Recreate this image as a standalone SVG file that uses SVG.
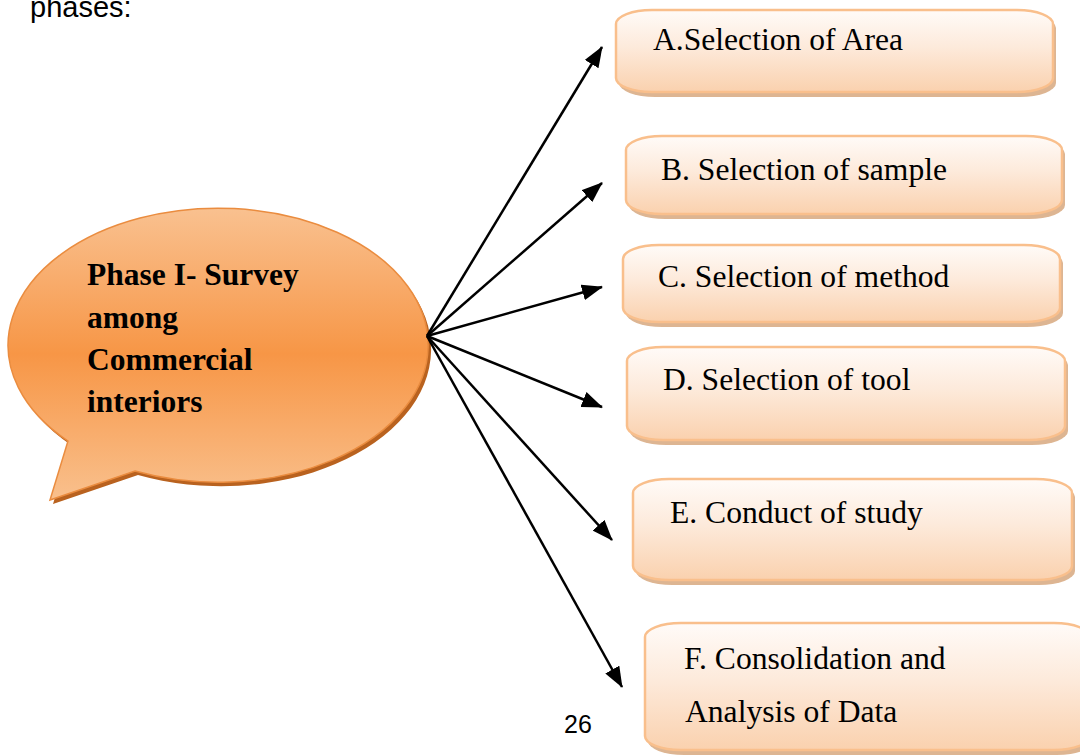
<svg xmlns="http://www.w3.org/2000/svg" width="1080" height="755" viewBox="0 0 1080 755">
<defs>
<linearGradient id="boxGrad" x1="0" y1="0" x2="0" y2="1">
<stop offset="0" stop-color="#fffbf8"/>
<stop offset="0.45" stop-color="#fdeadb"/>
<stop offset="1" stop-color="#fad1ae"/>
</linearGradient>
<linearGradient id="bubGrad" x1="0" y1="0" x2="0" y2="1">
<stop offset="0" stop-color="#f9c190"/>
<stop offset="0.5" stop-color="#f79646"/>
<stop offset="1" stop-color="#f9c08d"/>
</linearGradient>
<marker id="arr" markerUnits="userSpaceOnUse" markerWidth="22" markerHeight="16" refX="20" refY="8" orient="auto">
<path d="M0,0 L21,8 L0,16 z" fill="#000"/>
</marker>
<style>
.box{fill:url(#boxGrad);stroke:#f9bf8c;stroke-width:2.5}
.shadow{fill:#d7a87f;opacity:0.85}
.lbl{font-family:"Liberation Serif","Times New Roman",serif;font-size:31.6px;fill:#000}
.blbl{font-family:"Liberation Serif","Times New Roman",serif;font-size:31.5px;font-weight:bold;fill:#000}
.conn line{stroke:#000;stroke-width:2.5;marker-end:url(#arr)}
</style>
</defs>
<rect width="1080" height="755" fill="#fff"/>
<text x="30" y="17" font-family="Liberation Sans, Arial, sans-serif" font-size="29">phases:</text>
<text x="564" y="733" font-family="Liberation Sans, Arial, sans-serif" font-size="25">26</text>

<g id="bubble">
<path d="M 68,441 L 50,500 L 135,471 A 210 137 0 1 0 68,441 Z" transform="translate(3,4)" fill="#b9621f"/>
<path d="M 68,441 L 50,500 L 135,471 A 210 137 0 1 0 68,441 Z" fill="url(#bubGrad)" stroke="#ea8c3f" stroke-width="1.5"/>
<text class="blbl" x="87" y="285">Phase I- Survey</text>
<text class="blbl" x="87" y="328">among</text>
<text class="blbl" x="87" y="370">Commercial</text>
<text class="blbl" x="87" y="412">interiors</text>
</g>

<g id="nodeA">
<rect class="shadow" x="619" y="14" width="437" height="83" rx="36" ry="14"/>
<rect class="box" x="616" y="10" width="437" height="82" rx="36" ry="14"/>
<text class="lbl" x="653" y="50">A.Selection of Area</text>
</g>
<g id="nodeB">
<rect class="shadow" x="629" y="140" width="436" height="79" rx="36" ry="14"/>
<rect class="box" x="626" y="136" width="436" height="78" rx="36" ry="14"/>
<text class="lbl" x="661" y="180">B. Selection of sample</text>
</g>
<g id="nodeC">
<rect class="shadow" x="626" y="249" width="437" height="78" rx="36" ry="14"/>
<rect class="box" x="623" y="245" width="437" height="77" rx="36" ry="14"/>
<text class="lbl" x="658" y="287">C. Selection of method</text>
</g>
<g id="nodeD">
<rect class="shadow" x="630" y="351" width="438" height="94" rx="36" ry="14"/>
<rect class="box" x="627" y="347" width="438" height="93" rx="36" ry="14"/>
<text class="lbl" x="663" y="390">D. Selection of tool</text>
</g>
<g id="nodeE">
<rect class="shadow" x="636" y="483" width="439" height="102" rx="36" ry="14"/>
<rect class="box" x="633" y="479" width="439" height="101" rx="36" ry="14"/>
<text class="lbl" x="670" y="523">E. Conduct of study</text>
</g>
<g id="nodeF">
<rect class="shadow" x="648" y="627" width="445" height="128" rx="36" ry="14"/>
<rect class="box" x="645" y="623" width="445" height="127" rx="36" ry="14"/>
<text class="lbl" x="684" y="669">F. Consolidation and</text>
<text class="lbl" x="685" y="722">Analysis of Data</text>
</g>

<g id="connectors" class="conn">
<line x1="427" y1="336" x2="602" y2="47"/>
<line x1="427" y1="336" x2="602" y2="183"/>
<line x1="427" y1="336" x2="602" y2="287"/>
<line x1="427" y1="336" x2="602" y2="407"/>
<line x1="427" y1="336" x2="612" y2="540"/>
<line x1="427" y1="336" x2="622" y2="687"/>
</g>
</svg>
